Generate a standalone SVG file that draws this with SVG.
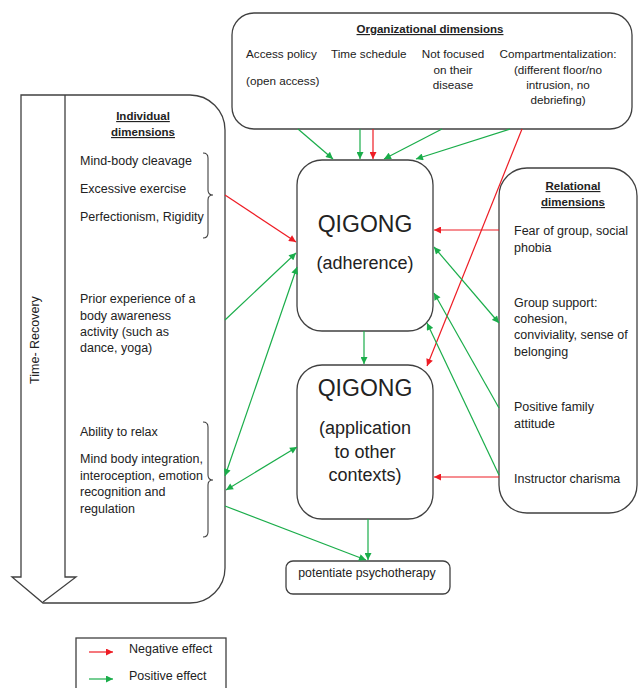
<svg xmlns="http://www.w3.org/2000/svg" width="638" height="688" viewBox="0 0 638 688">
<style>
.box{fill:#fff;stroke:#404040;stroke-width:1.3}
.t{font-family:"Liberation Sans",Arial,sans-serif;font-size:12.5px;fill:#222}
.o{font-size:11.7px}
.h{font-weight:bold;text-decoration:underline;font-size:11.5px}
.q{font-size:23px}
.s{font-size:18px}
.m{text-anchor:middle}
.g{stroke:#1aad4a;stroke-width:1.2;fill:none}
.r{stroke:#ee1c24;stroke-width:1.2;fill:none}
.brace{fill:none;stroke:#404040;stroke-width:1.1}
</style>
<defs>
<marker id="ag" viewBox="0 0 10 10" refX="10" refY="5" markerWidth="8" markerHeight="7" markerUnits="userSpaceOnUse" orient="auto-start-reverse"><path d="M0,0 L10,5 L0,10 z" fill="#1aad4a"/></marker>
<marker id="ar" viewBox="0 0 10 10" refX="10" refY="5" markerWidth="8" markerHeight="7" markerUnits="userSpaceOnUse" orient="auto-start-reverse"><path d="M0,0 L10,5 L0,10 z" fill="#ee1c24"/></marker>
</defs>
<rect width="638" height="688" fill="#fff"/>

<g id="organizational">
<rect class="box" x="232" y="13" width="400" height="116" rx="22"/>
<text class="t h m" x="430" y="33">Organizational dimensions</text>
<text class="t o" x="246" y="58">Access policy</text>
<text class="t o" x="246" y="85">(open access)</text>
<text class="t o" x="331" y="58">Time schedule</text>
<text class="t o m" x="453" y="58">Not focused</text>
<text class="t o m" x="453" y="74">on their</text>
<text class="t o m" x="453" y="89">disease</text>
<text class="t o m" x="558" y="58">Compartmentalization:</text>
<text class="t o m" x="558" y="74">(different floor/no</text>
<text class="t o m" x="558" y="89">intrusion, no</text>
<text class="t o m" x="558" y="104">debriefing)</text>
</g>

<g id="individual">
<path class="box" d="M21,95 H190 A35,35 0 0 1 225,130 V568 A35,35 0 0 1 190,603 H43 L12,577 H21 Z"/>
<path class="box" d="M65,95 V577 H76 L43,602" fill="none"/>
<text class="t" transform="translate(39,340) rotate(-90)" text-anchor="middle">Time- Recovery</text>
<text class="t h m" x="143" y="120">Individual</text>
<text class="t h m" x="143" y="136">dimensions</text>
<text class="t" x="80" y="165">Mind-body cleavage</text>
<text class="t" x="80" y="193">Excessive exercise</text>
<text class="t" x="80" y="221">Perfectionism, Rigidity</text>
<path class="brace" d="M203,153 Q208,153 208,158 V190 Q208,195 213,195 Q208,195 208,200 V233 Q208,238 203,238"/>
<text class="t" x="80" y="303">Prior experience of a</text>
<text class="t" x="80" y="320">body awareness</text>
<text class="t" x="80" y="336">activity (such as</text>
<text class="t" x="80" y="352">dance, yoga)</text>
<text class="t" x="80" y="436">Ability to relax</text>
<text class="t" x="80" y="463">Mind body integration,</text>
<text class="t" x="80" y="480">interoception, emotion</text>
<text class="t" x="80" y="496">recognition and</text>
<text class="t" x="80" y="513">regulation</text>
<path class="brace" d="M203,422 Q208,422 208,427 V475 Q208,480 213,480 Q208,480 208,485 V532 Q208,537 203,537"/>
</g>

<g id="relational">
<rect class="box" x="499" y="168" width="138" height="345" rx="28"/>
<text class="t h m" x="573" y="190">Relational</text>
<text class="t h m" x="573" y="206">dimensions</text>
<text class="t" x="514" y="235">Fear of group, social</text>
<text class="t" x="514" y="252">phobia</text>
<text class="t" x="514" y="307">Group support:</text>
<text class="t" x="514" y="323">cohesion,</text>
<text class="t" x="514" y="339">conviviality, sense of</text>
<text class="t" x="514" y="356">belonging</text>
<text class="t" x="514" y="411">Positive family</text>
<text class="t" x="514" y="428">attitude</text>
<text class="t" x="514" y="483">Instructor charisma</text>
</g>

<g id="qigong-adherence">
<rect class="box" x="297" y="160" width="136" height="171" rx="25"/>
<text class="t q m" x="365" y="232">QIGONG</text>
<text class="t s m" x="365" y="269">(adherence)</text>
</g>

<g id="qigong-application">
<rect class="box" x="297" y="365" width="136" height="154" rx="25"/>
<text class="t q m" x="365" y="396">QIGONG</text>
<text class="t s m" x="365" y="434">(application</text>
<text class="t s m" x="365" y="458">to other</text>
<text class="t s m" x="365" y="481">contexts)</text>
</g>

<g id="psychotherapy">
<rect class="box" x="286" y="561" width="164" height="33" rx="7"/>
<text class="t m" x="367" y="577" style="font-size:12.3px">potentiate psychotherapy</text>
</g>

<g id="legend">
<rect class="box" x="76" y="638" width="150" height="60"/>
<path class="r" d="M89,652 H113" marker-end="url(#ar)"/>
<text class="t" x="129" y="653">Negative effect</text>
<path class="g" d="M89,679 H113" marker-end="url(#ag)"/>
<text class="t" x="129" y="680">Positive effect</text>
</g>

<g id="connectors">
<path class="g" d="M298,129 L333,159" marker-end="url(#ag)"/>
<path class="g" d="M360,129 V159" marker-end="url(#ag)"/>
<path class="r" d="M373,129 V159" marker-end="url(#ar)"/>
<path class="g" d="M442,129 L384,159" marker-end="url(#ag)"/>
<path class="g" d="M510,129 L416,159" marker-end="url(#ag)"/>
<path class="r" d="M522,129 L427,366" marker-end="url(#ar)"/>
<path class="r" d="M225,195 L296,242" marker-end="url(#ar)"/>
<path class="g" d="M225,320 L296,253" marker-end="url(#ag)"/>
<path class="g" d="M297,267 L225,476" marker-start="url(#ag)" marker-end="url(#ag)"/>
<path class="g" d="M226,490 L297,447" marker-start="url(#ag)" marker-end="url(#ag)"/>
<path class="g" d="M225,506 L366,560" marker-end="url(#ag)"/>
<path class="g" d="M368,519 V560" marker-end="url(#ag)"/>
<path class="g" d="M364,331 V364" marker-end="url(#ag)"/>
<path class="r" d="M499,230 H434" marker-end="url(#ar)"/>
<path class="g" d="M434,247 L499,323" marker-start="url(#ag)" marker-end="url(#ag)"/>
<path class="g" d="M499,408 L434,293" marker-end="url(#ag)"/>
<path class="g" d="M499,475 L427,323" marker-end="url(#ag)"/>
<path class="r" d="M499,477 H434" marker-end="url(#ar)"/>
</g>
</svg>
